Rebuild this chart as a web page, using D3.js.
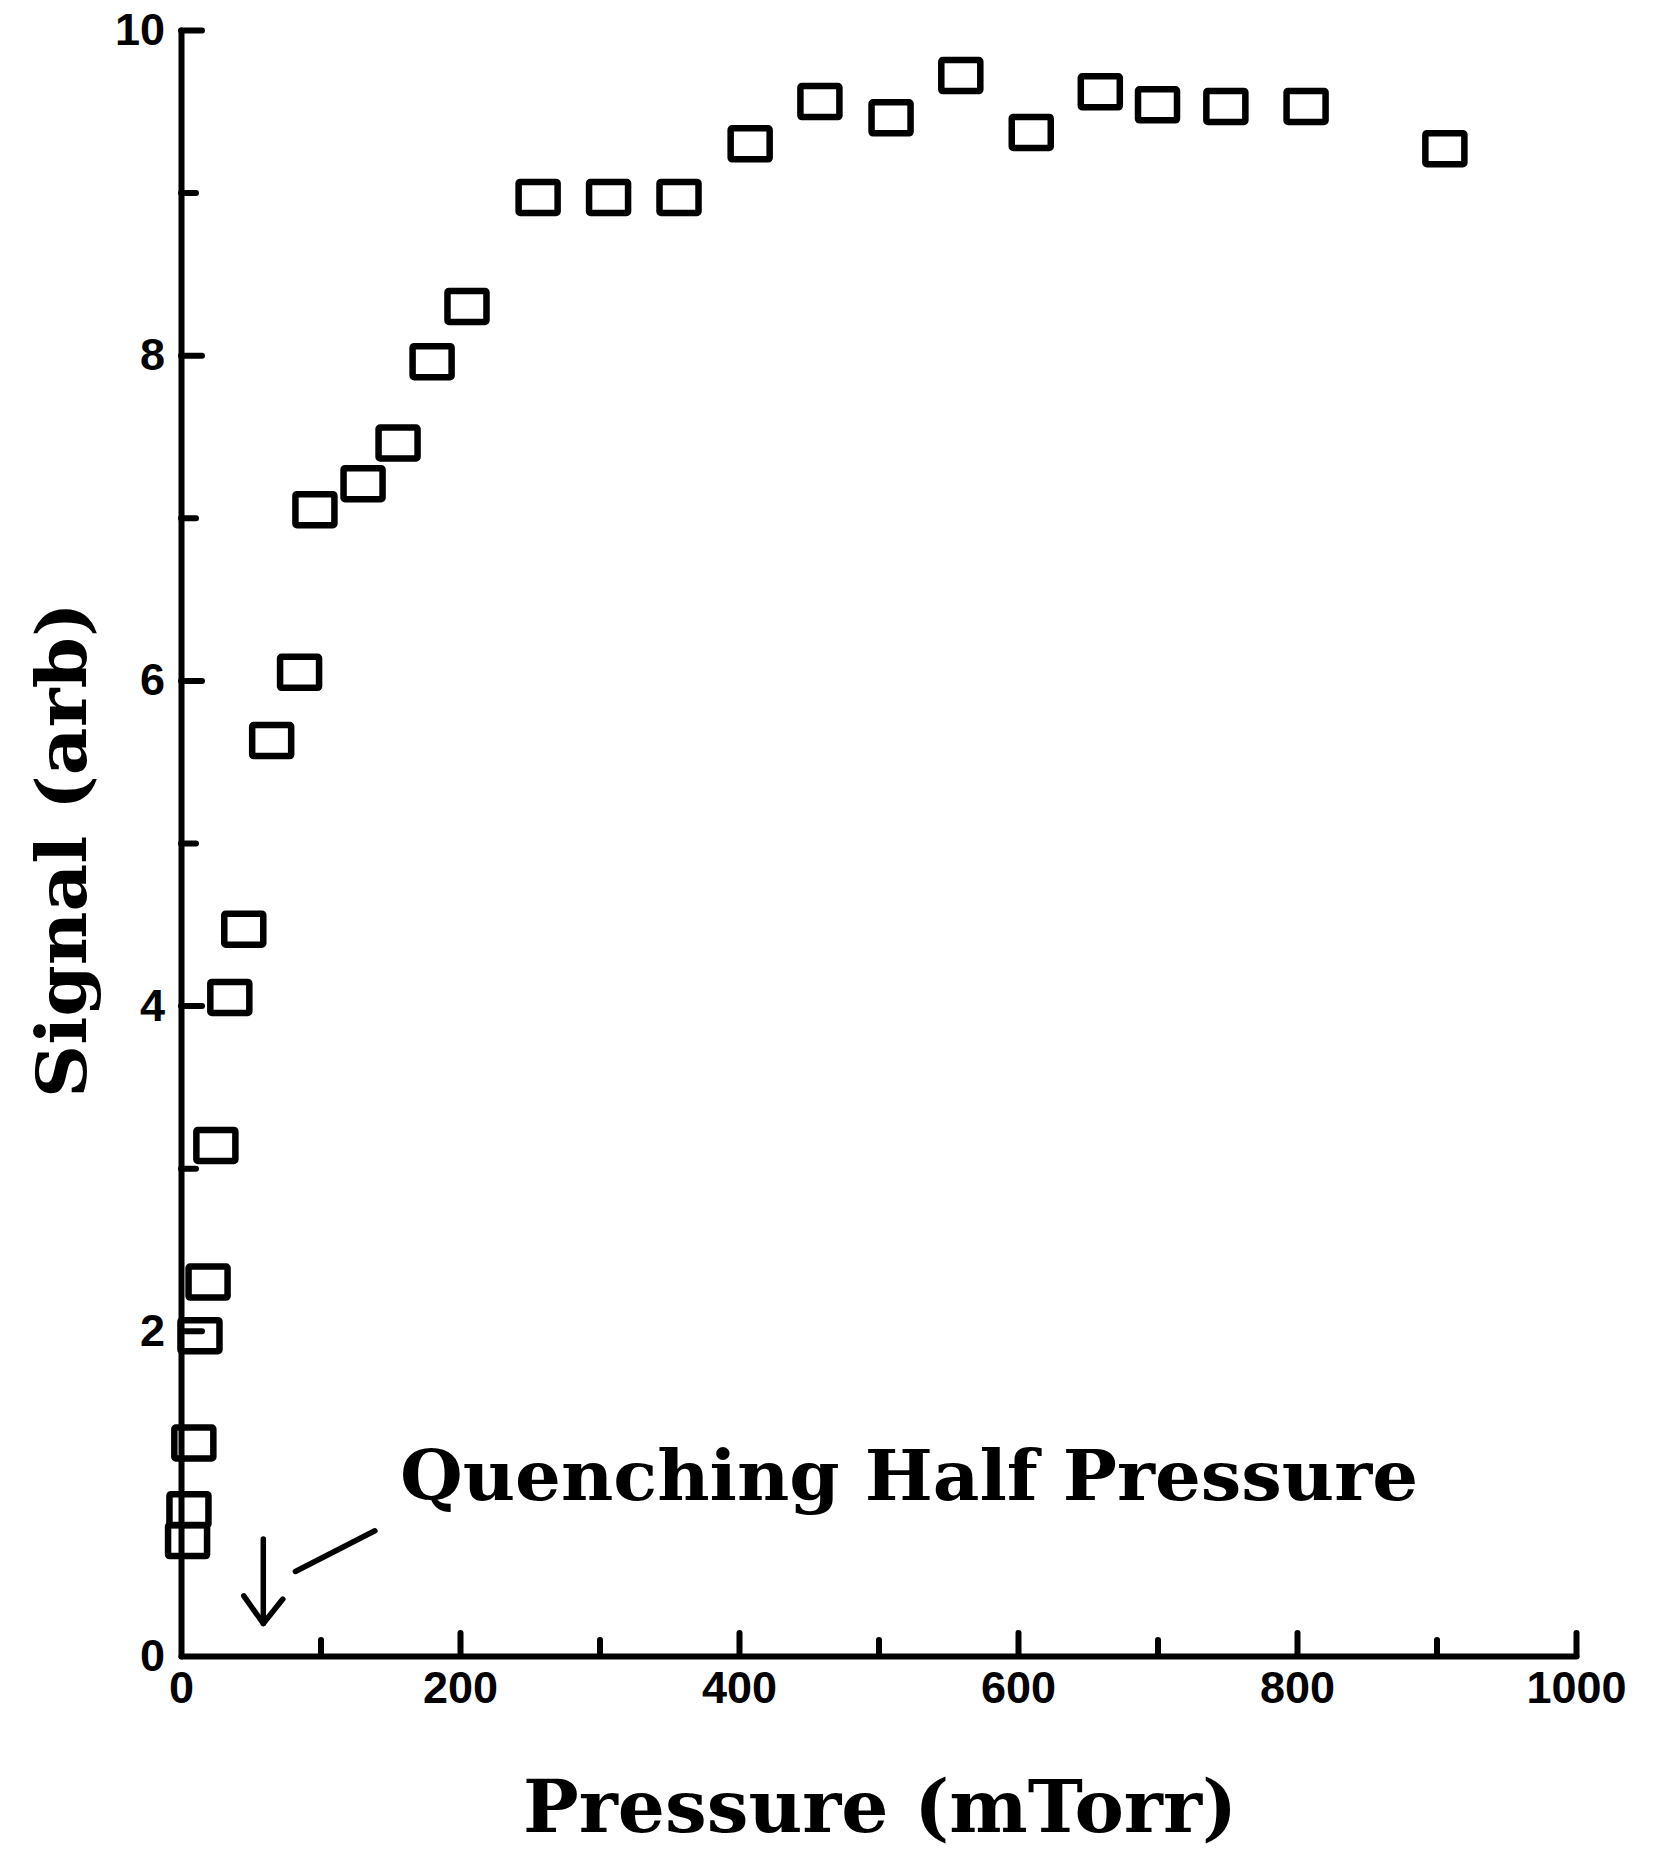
<!DOCTYPE html>
<html><head><meta charset="utf-8">
<script src="https://cdn.jsdelivr.net/npm/d3@7/dist/d3.min.js"></script>
<style>body{margin:0;background:#fff}svg{display:block}</style>
</head><body>
<svg id="chart" width="1661" height="1851"></svg>
<script>
// ---- data ----
const pressure = [5.7, 4.7, 9.2, 13.6, 19.4, 25, 35, 45, 65, 85, 96, 130.5, 155.6, 180, 205,
                  256, 306.5, 357, 408, 458, 509, 559, 609.5, 659, 700, 749, 806.5, 906];
const signal   = [0.90, 0.71, 1.31, 1.97, 2.30, 3.14, 4.05, 4.47, 5.63, 6.05, 7.05, 7.21, 7.46, 7.96, 8.30,
                  8.97, 8.97, 8.97, 9.30, 9.56, 9.46, 9.72, 9.37, 9.62, 9.54, 9.53, 9.53, 9.27];
const xMajorTicks = [0, 200, 400, 600, 800, 1000];
const xMinorTicks = [100, 300, 500, 700, 900];
const yMajorTicks = [0, 2, 4, 6, 8, 10];
const yMinorTicks = [1, 3, 5, 7, 9];
const xTitle = "Pressure (mTorr)";
const yTitle = "Signal (arb)";
const annotationText = "Quenching Half Pressure";
const quenchHalfPressure = 59;      // arrow position (mTorr)
const arrowSpan = [0.72, 0.2];      // arrow from/to signal
const leaderFrom = [82, 0.52];      // leader line [pressure, signal]
const leaderTo = [139, 0.77];

// ---- layout ----
const svg = d3.select("#chart");
const x = d3.scaleLinear().domain([0, 1000]).range([181, 1576]);
const y = d3.scaleLinear().domain([0, 10]).range([1656, 30]);
const axisFont = "'Liberation Sans', Arial, sans-serif";
const titleFont = "'DejaVu Serif', serif";

function styleAxis(g) {
  g.selectAll("path, line").attr("stroke", "#000").attr("stroke-width", 6).attr("stroke-linecap", "round");
  g.selectAll("text").attr("fill", "#000").attr("font-family", axisFont).attr("font-weight", "bold").attr("font-size", 45);
}

// x axis
const gx = svg.append("g").attr("transform", `translate(0,${y(0)})`)
  .call(d3.axisBottom(x).tickValues(xMajorTicks).tickSizeInner(-23).tickSizeOuter(0).tickPadding(15).tickFormat(d3.format("d")));
styleAxis(gx);
gx.selectAll(".tick line").filter(d => d === 0).remove();
const gx2 = svg.append("g").attr("transform", `translate(0,${y(0)})`)
  .call(d3.axisBottom(x).tickValues(xMinorTicks).tickSize(-16).tickFormat(""));
gx2.select("path").remove();
styleAxis(gx2);

// y axis
const gy = svg.append("g").attr("transform", `translate(${x(0)},0)`)
  .call(d3.axisLeft(y).tickValues(yMajorTicks).tickSizeInner(-21).tickSizeOuter(0).tickPadding(16).tickFormat(d3.format("d")));
styleAxis(gy);
gy.selectAll(".tick line").filter(d => d === 0).remove();
const gy2 = svg.append("g").attr("transform", `translate(${x(0)},0)`)
  .call(d3.axisLeft(y).tickValues(yMinorTicks).tickSize(-15).tickFormat(""));
gy2.select("path").remove();
styleAxis(gy2);

// markers: open squares
const mw = 39, mh = 31;
svg.append("g").selectAll("rect").data(pressure.map((p, i) => [p, signal[i]])).join("rect")
  .attr("x", d => x(d[0]) - mw / 2).attr("y", d => y(d[1]) - mh / 2)
  .attr("width", mw).attr("height", mh)
  .attr("fill", "none").attr("stroke", "#000").attr("stroke-width", 6.5).attr("rx", 1.5);

// annotation arrow
const ann = svg.append("g").attr("stroke", "#000").attr("stroke-width", 5.5).attr("stroke-linecap", "round").attr("fill", "none");
ann.append("line").attr("x1", x(quenchHalfPressure)).attr("x2", x(quenchHalfPressure))
  .attr("y1", y(arrowSpan[0])).attr("y2", y(arrowSpan[1]));
ann.append("polyline").attr("points", [
  [x(quenchHalfPressure - 14), y(arrowSpan[1] + 0.17)],
  [x(quenchHalfPressure), y(arrowSpan[1])],
  [x(quenchHalfPressure + 14), y(arrowSpan[1] + 0.15)]
].map(p => p.join(",")).join(" ")).attr("stroke-linejoin", "round");
ann.append("line").attr("x1", x(leaderFrom[0])).attr("y1", y(leaderFrom[1]))
  .attr("x2", x(leaderTo[0])).attr("y2", y(leaderTo[1]));

svg.append("text").attr("x", 400).attr("y", 1500)
  .attr("font-family", titleFont).attr("font-weight", "bold").attr("font-size", 70)
  .attr("textLength", 1018).attr("lengthAdjust", "spacingAndGlyphs")
  .text(annotationText);

// axis titles
svg.append("text").attr("x", 880).attr("y", 1832).attr("text-anchor", "middle")
  .attr("font-family", titleFont).attr("font-weight", "bold").attr("font-size", 72)
  .attr("textLength", 714).attr("lengthAdjust", "spacingAndGlyphs")
  .text(xTitle);
svg.append("text").attr("transform", "translate(86,850) rotate(-90)").attr("text-anchor", "middle")
  .attr("font-family", titleFont).attr("font-weight", "bold").attr("font-size", 70)
  .attr("textLength", 496).attr("lengthAdjust", "spacingAndGlyphs")
  .text(yTitle);
</script>
</body></html>
